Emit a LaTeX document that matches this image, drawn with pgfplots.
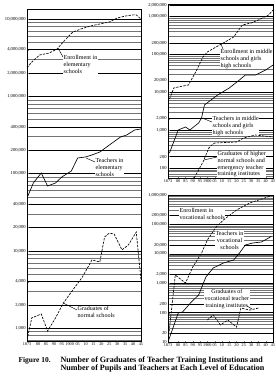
\documentclass[border=0pt]{standalone}
\usepackage{pgfplots}
\pgfplotsset{compat=1.18}
\usepackage{fontspec}
\setmainfont{Liberation Serif}
\newcommand{\ann}{\fontsize{6.1}{6.7}\selectfont}
\tikzset{lab/.style={anchor=north west, fill=white, inner sep=0.5pt, align=left, font=\ann},
         lead/.style={line width=0.45pt}}
\pgfplotsset{
  panel/.style={
    scale only axis,
    xmin=1873, xmax=1945,
    axis line style={line width=0.8pt},
    xtick={1873,1880,1885,1890,1895,1900,1905,1910,1915,1920,1925,1930,1935,1940,1945},
    xticklabels={1873,80,85,90,95,1900,05,10,15,20,25,30,35,40,45},
    xtick pos=bottom, tick align=inside,
    major tick length=1.5bp, minor tick length=0pt,
    ytick pos=left,
    xticklabel style={font=\fontsize{4.2}{4.5}\selectfont, inner sep=1pt, yshift=-0.6bp},
    yticklabel style={font=\fontsize{4.6}{5}\selectfont, inner sep=1.2pt},
    ymajorgrids, yminorgrids,
    major grid style={black, line width=0.5pt},
    minor grid style={black!55, line width=0.45pt},
  },
  sol/.style={black, line width=0.65pt, mark=none},
  dsh/.style={black, line width=0.65pt, mark=none, dash pattern=on 2.4pt off 1.2pt},
}
\begin{document}
\begin{tikzpicture}
\path[use as bounding box] (0bp,0bp) rectangle (276bp,-382bp);
% ---------------- left panel ----------------
\begin{axis}[panel, ymode=log, at={(27bp,-9bp)}, anchor=north west, width=114bp, height=332bp,
  ymin=682, ymax=1.346e7,
  ytick={1e3,2e3,4e3,1e4,2e4,4e4,1e5,2e5,4e5,1e6,2e6,4e6,1e7},
  yticklabels={{1,000},{2,000},{4,000},{10,000},{20,000},{40,000},{100,000},{200,000},{400,000},{1,000,000},{2,000,000},{4,000,000},{10,000,000}},
  minor ytick={7e2,8e2,9e2,3e3,5e3,6e3,7e3,8e3,9e3,3e4,5e4,6e4,7e4,8e4,9e4,3e5,5e5,6e5,7e5,8e5,9e5,3e6,5e6,6e6,7e6,8e6,9e6},
]
\node[lab] at (rel axis cs:0.3158,0.8614) {Enrollment in\\elementary\\schools};
\draw[lead] (rel axis cs:0.2719,0.8825) -- (rel axis cs:0.3158,0.8554);
\node[lab] at (rel axis cs:0.5965,0.5512) {Teachers in\\elementary\\schools};
\draw[lead] (rel axis cs:0.5175,0.5512) -- (rel axis cs:0.5965,0.5392);
\node[lab] at (rel axis cs:0.4386,0.1054) {Graduates of\\normal schools};
\draw[lead] (rel axis cs:0.3158,0.1145) -- (rel axis cs:0.4386,0.0934);
% Enrollment in elementary schools
\addplot[dsh] coordinates {(1873,2.32e6)(1876,2.77e6)(1881,3.42e6)(1887,3.63e6)(1892,4.09e6)(1897,5.35e6)(1902,6.78e6)(1907,7.41e6)(1913,8.11e6)(1919,8.61e6)(1925,9.14e6)(1930,10.3e6)(1935,10.9e6)(1940,11.3e6)(1942,11.3e6)(1945,9.98e6)};
% Teachers in elementary schools
\addplot[sol] coordinates {(1873,48300)(1877,75500)(1882,101800)(1886,69000)(1891,75500)(1895,90300)(1901,108000)(1905,159000)(1910,164000)(1914,174000)(1919,190000)(1925,234000)(1932,297000)(1936,316000)(1941,366000)(1945,378000)};
% Graduates of normal schools
\addplot[dsh] coordinates {(1873,703)(1876,1355)(1882,1525)(1886,918)(1891,1355)(1896,2118)(1901,2940)(1908,4590)(1914,7620)(1919,7180)(1922,15100)(1925,17000)(1928,16500)(1933,10300)(1937,11900)(1942,17500)(1945,4200)};
\end{axis}
% ---------------- upper right panel ----------------
\begin{axis}[panel, ymode=log, at={(168bp,-4bp)}, anchor=north west, width=105bp, height=174bp,
  ymin=54.5, ymax=2.12e6,
  ytick={1e2,2e2,1e3,2e3,1e4,2e4,1e5,2e5,1e6,2e6},
  yticklabels={{100},{200},{1,000},{2,000},{10,000},{20,000},{100,000},{200,000},{1,000,000},{2,000,000}},
  minor ytick={60,70,80,90,300,400,500,600,700,800,900,3e3,4e3,5e3,6e3,7e3,8e3,9e3,3e4,4e4,5e4,6e4,7e4,8e4,9e4,3e5,4e5,5e5,6e5,7e5,8e5,9e5},
]
\node[lab] at (rel axis cs:0.4952,0.7414) {Enrollment in middle\\schools and girls\\high schools};
\draw[lead] (rel axis cs:0.5048,0.7701) -- (rel axis cs:0.5238,0.7414);
\node[lab] at (rel axis cs:0.4190,0.3563) {Teachers in middle\\schools and girls\\high schools};
\draw[lead] (rel axis cs:0.3238,0.3448) -- (rel axis cs:0.4190,0.3218);
\node[lab] at (rel axis cs:0.4667,0.1552) {Graduates of higher\\normal schools and\\emergency teacher\\training institutes};
\draw[lead] (rel axis cs:0.3429,0.1034) -- (rel axis cs:0.4667,0.1207);
% Enrollment in middle schools and girls high schools
\addplot[dsh] coordinates {(1874,6600)(1877,12900)(1880,13700)(1887,15500)(1892,34100)(1897,84900)(1900,115000)(1906,156000)(1911,199000)(1918,286000)(1924,593000)(1930,670000)(1935,804000)(1942,1090000)(1945,1470000)};
% Teachers in middle schools and girls high schools
\addplot[sol] coordinates {(1874,249)(1880,1007)(1885,1208)(1888,1007)(1894,1542)(1896,2090)(1898,4600)(1907,8440)(1915,12900)(1922,21000)(1926,28400)(1933,28400)(1940,38500)(1945,52000)};
% Graduates of higher normal schools and emergency teacher training institutes
\addplot[dsh] coordinates {(1891,55)(1897,144)(1901,337)(1903,405)(1905,457)(1920,486)(1925,620)(1933,743)(1945,657)};
\end{axis}
% ---------------- lower right panel ----------------
\begin{axis}[panel, ymode=log, at={(168bp,-195bp)}, anchor=north west, width=105bp, height=147bp,
  ymin=10, ymax=1e6,
  ytick={10,20,100,200,1e3,2e3,1e4,2e4,1e5,2e5,1e6},
  yticklabels={{10},{20},{100},{200},{1,000},{2,000},{10,000},{20,000},{100,000},{200,000},{1,000,000}},
  minor ytick={30,40,50,60,70,80,90,300,400,500,600,700,800,900,3e3,4e3,5e3,6e3,7e3,8e3,9e3,3e4,4e4,5e4,6e4,7e4,8e4,9e4,3e5,4e5,5e5,6e5,7e5,8e5,9e5},
]
\node[lab] at (rel axis cs:0.1048,0.9116) {Enrollment in\\vocational schools};
\node[lab, align=center] at (rel axis cs:0.4476,0.7551) {Teachers in\\vocational\\schools};
\node[lab, align=center] at (rel axis cs:0.3429,0.3605) {Graduates of\\vocational teacher\\training institutes};
\draw[lead] (rel axis cs:0.8,0.2245) -- (rel axis cs:0.7524,0.2449);
% Enrollment in vocational schools
\addplot[dsh] coordinates {(1873,10)(1878,1900)(1885,1016)(1890,3556)(1896,10600)(1900,29500)(1906,81600)(1911,141000)(1920,309000)(1929,535000)(1944,950000)};
% Teachers in vocational schools
\addplot[sol] coordinates {(1873,10)(1880,97)(1883,105)(1889,230)(1894,397)(1899,1625)(1904,3290)(1911,4870)(1918,6150)(1922,10600)(1926,19900)(1931,23300)(1937,25200)(1942,34400)(1944,40000)};
% Graduates of vocational teacher training institutes
\addplot[dsh] coordinates {(1900,56)(1904,83)(1909,38)(1914,56)(1920,32)(1923,143)(1929,122)(1935,143)};
\end{axis}
% ---------------- caption ----------------
\begin{scope}[x=1bp,y=1bp]
\node[anchor=base west, font=\bfseries\fontsize{7.5}{8.5}\selectfont] at (15,-362) {Figure 10.};
\node[anchor=base west, font=\bfseries\fontsize{8.1}{8.5}\selectfont] at (57,-362) {Number of Graduates of Teacher Training Institutions and};
\node[anchor=base west, font=\bfseries\fontsize{8.1}{8.5}\selectfont] at (57,-370.5) {Number of Pupils and Teachers at Each Level of Education};
\end{scope}
\end{tikzpicture}
\end{document}
